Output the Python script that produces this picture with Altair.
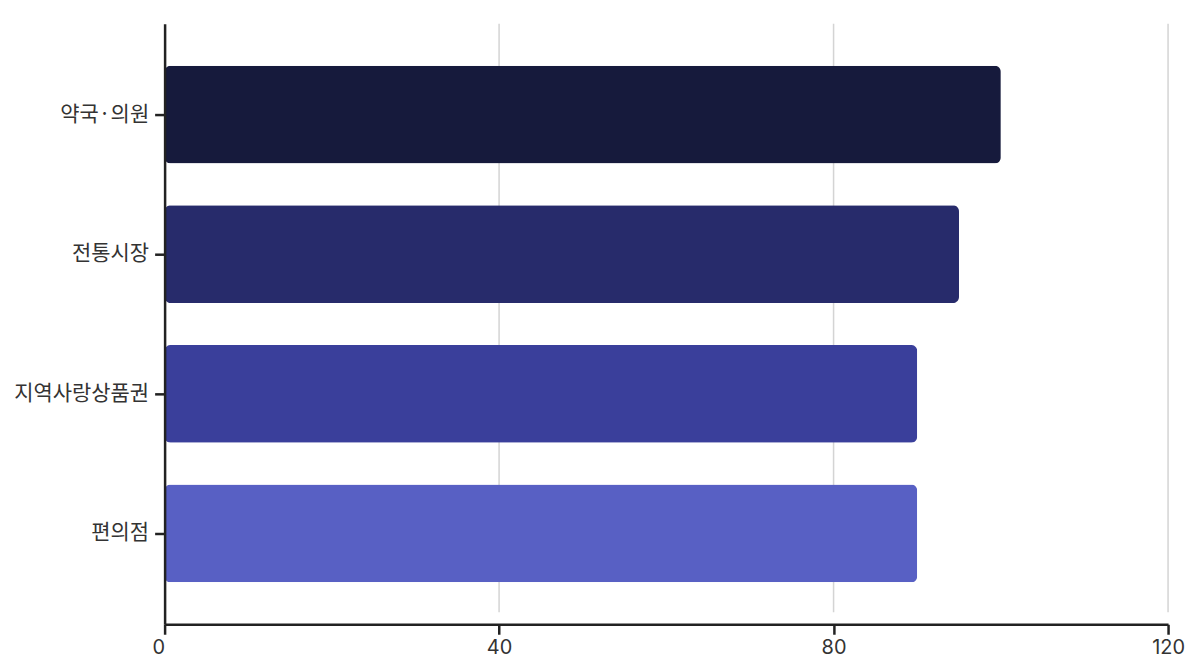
import altair as alt
import pandas as pd

categories = ["약국·의원", "전통시장", "지역사랑상품권", "편의점"]
values = [100, 95, 90, 90]
bar_colors = ["#161a3c", "#272b6b", "#3a3f9b", "#5860c4"]
x_ticks = [0, 40, 80, 120]
grid_ticks = [40, 80, 120]

df = pd.DataFrame({"category": categories, "value": values})
grid_df = pd.DataFrame({"tick": grid_ticks})

x_scale = alt.Scale(domain=[0, 120], nice=False, zero=True)

x_axis = alt.Axis(
    values=x_ticks,
    grid=False,
    domainColor="#222222",
    domainWidth=2.5,
    tickColor="#222222",
    tickWidth=2.5,
    tickSize=10,
    labelFont="Inter",
    labelFontSize=20,
    labelColor="#333333",
    labelPadding=3,
    labelAlign=alt.expr("datum.value === 0 ? 'right' : 'center'"),
    zindex=1,
)

grid = alt.Chart(grid_df).mark_rule(color="#d4d4d4", strokeWidth=1.5).encode(
    x=alt.X("tick:Q", scale=x_scale, axis=x_axis, title=None),
    y=alt.value(0),
    y2=alt.value(590),
)

bars = alt.Chart(df).mark_bar(cornerRadius=6).encode(
    x=alt.X("value:Q", scale=x_scale, title=None, axis=x_axis),
    y=alt.Y(
        "category:N",
        sort=categories,
        title=None,
        scale=alt.Scale(paddingInner=0.3, paddingOuter=0.3),
        axis=alt.Axis(
            domainColor="#222222",
            domainWidth=2.5,
            tickColor="#222222",
            tickWidth=2.5,
            tickSize=10,
            labelFont="Noto Sans CJK KR",
            labelFontSize=21,
            labelColor="#333333",
            labelPadding=6,
            minExtent=151,
            maxExtent=151,
            zindex=1,
        ),
    ),
    color=alt.Color(
        "category:N",
        scale=alt.Scale(domain=categories, range=bar_colors),
        legend=None,
    ),
)

chart = alt.layer(grid, bars).properties(
    width=1006,
    height=602,
    padding={"left": 5, "top": 14, "right": 5, "bottom": 5},
    background="white",
).configure_view(stroke=None)

chart.save("out.html", embed_options={"renderer": "svg", "actions": False})
